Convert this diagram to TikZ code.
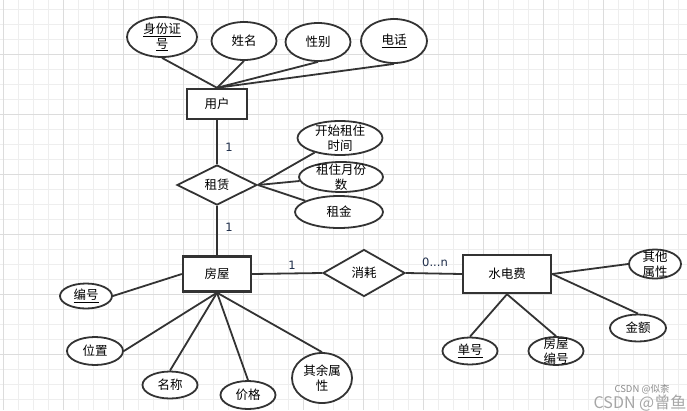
\documentclass[tikz,border=0pt]{standalone}
\usepackage{fontspec}
\setmainfont{Noto Sans CJK SC}
\newfontfamily\latinfont{DejaVu Sans}
\usetikzlibrary{shapes.geometric}

\definecolor{linec}{HTML}{333333}
\definecolor{gridminor}{HTML}{EEEEEE}
\definecolor{gridmajor}{HTML}{DCDCDC}
\definecolor{cardc}{HTML}{1E2D4A}

\begin{document}
\begin{tikzpicture}[
  x=1pt, y=-1pt,
  every node/.style={font=\fontsize{12.5}{15}\selectfont},
  entity/.style={draw=linec, line width=2.4pt, fill=white, inner sep=0pt},
  relation/.style={diamond, draw=linec, line width=1.8pt, fill=white, inner sep=0pt},
  attr/.style={ellipse, draw=linec, line width=1.8pt, fill=white, inner sep=0pt},
  every label/.style={align=center, inner sep=0pt, font=\fontsize{12.5}{15}\selectfont},
  link/.style={draw=linec, line width=1.8pt},
  card/.style={text=cardc, font=\latinfont\fontsize{11.5}{13}\selectfont},
  minor/.style={draw=gridminor, line width=0.8pt},
  major/.style={draw=gridmajor, line width=0.8pt},
  mark small/.style={text=black!45, font=\fontsize{9.5}{11}\selectfont},
  mark big/.style={text=black!35, font=\fontsize{16}{18}\selectfont}
]
\useasboundingbox[fill=white] (0,0) rectangle (687,410);

% Background grid
\begin{scope}
\clip (0,0) rectangle (687,410);
\foreach \gx in {3,18,...,687} \draw[minor] (\gx,0) -- (\gx,410);
\foreach \gy in {9.3,24.3,...,410} \draw[minor] (0,\gy) -- (687,\gy);
\foreach \gx in {3,63,...,687} \draw[major] (\gx,0) -- (\gx,410);
\foreach \gy in {54.3,114.3,...,410} \draw[major] (0,\gy) -- (687,\gy);
\end{scope}

% Entities
\node[entity, minimum width=60, minimum height=30] (user) at (217,104) {用户};
\node[entity, minimum width=68, minimum height=35] (house) at (217,274) {房屋};
\node[entity, minimum width=88, minimum height=38] (bill) at (507,274) {水电费};

% Relationships
\node[relation, minimum width=80, minimum height=40] (rent) at (217,185) {租赁};
\node[relation, minimum width=82, minimum height=47] (use) at (364,273) {消耗};

% Attributes of 用户
\node[attr, minimum width=70, minimum height=40, label=center:{\underline{身份证}\\\underline{号}}] (idcard) at (162,37) {};
\node[attr, minimum width=65, minimum height=38, label=center:{姓名}] (uname) at (244,41) {};
\node[attr, minimum width=65, minimum height=38, label=center:{性别}] (gender) at (318,42) {};
\node[attr, minimum width=66, minimum height=44, label=center:{\underline{电话}}] (phone) at (394,41) {};

% Attributes of 租赁
\node[attr, minimum width=85, minimum height=34, label=center:{开始租住\\时间}] (start) at (340,138) {};
\node[attr, minimum width=84, minimum height=30, label=center:{租住月份\\数}] (months) at (341,177) {};
\node[attr, minimum width=88, minimum height=32, label=center:{租金}] (rentfee) at (339,212) {};

% Attributes of 房屋
\node[attr, minimum width=52, minimum height=25, label=center:{\underline{编号}}] (hid) at (86,296) {};
\node[attr, minimum width=56, minimum height=28, label=center:{位置}] (loc) at (95,351) {};
\node[attr, minimum width=55, minimum height=27, label=center:{名称}] (hname) at (170,385) {};
\node[attr, minimum width=55, minimum height=28, label=center:{价格}] (price) at (248,395) {};
\node[attr, minimum width=60, minimum height=50, label=center:{其余属\\性}] (hother) at (322,378) {};

% Attributes of 水电费
\node[attr, minimum width=55, minimum height=27, label=center:{\underline{单号}}] (billno) at (470,351) {};
\node[attr, minimum width=55, minimum height=28, label=center:{房屋\\编号}] (billhouse) at (556,351) {};
\node[attr, minimum width=56, minimum height=27, label=center:{金额}] (fee) at (638,328) {};
\node[attr, minimum width=52, minimum height=29, label=center:{其他\\属性}] (billother) at (655,264) {};

% Links
\draw[link] (idcard.south) -- (user.north);
\draw[link] (uname.south) -- (user.north);
\draw[link] (gender.south) -- (user.north);
\draw[link] (phone.south) -- (user.north);

\draw[link] (user.south) -- (rent.north);
\draw[link] (rent.south) -- (house.north);
\draw[link] (rent.east) -- (start);
\draw[link] (rent.east) -- (months);
\draw[link] (rent.east) -- (rentfee);

\draw[link] (house.west) -- (hid.east);
\draw[link] (house.south) -- (loc.east);
\draw[link] (house.south) -- (hname.north);
\draw[link] (house.south) -- (price.north);
\draw[link] (house.south) -- (hother.north);

\draw[link] (house.east) -- (use.west);
\draw[link] (use.east) -- (bill.west);

\draw[link] (bill.south) -- (billno.north);
\draw[link] (bill.south) -- (billhouse.north);
\draw[link] (bill.east) -- (billother.west);
\draw[link] (bill.east) -- (fee.north);

% Cardinalities
\node[card] (card_user) at (229,147) {1};
\node[card] (card_house) at (229,227) {1};
\node[card] (card_use) at (292,265) {1};
\node[card] (card_bill) at (435,262) {0...n};

% Watermark
\node[mark big] (mark_b) at (640,403) {CSDN @曾鱼};
\node[mark small] (mark_a) at (642,389) {CSDN @似柰};

\end{tikzpicture}
\end{document}
